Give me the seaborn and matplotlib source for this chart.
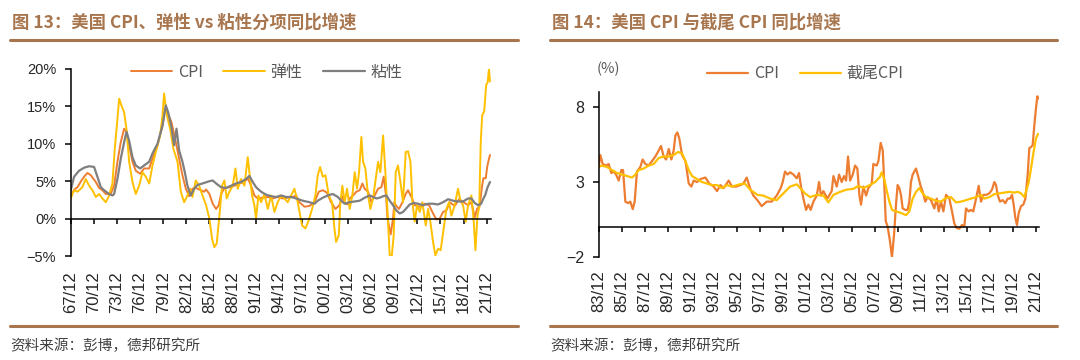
import matplotlib
matplotlib.use("Agg")
import matplotlib.pyplot as plt
import seaborn as sns
from matplotlib.lines import Line2D

# ---------------- DATA ----------------

# 图13: US CPI, flexible (弹性) and sticky (粘性) CPI, YoY %, decimal years
cpi_yr = [1967.92, 1968.4, 1968.79, 1969.25, 1969.65, 1970.08, 1970.52, 1971.17, 1971.6, 1972.03,
          1972.47, 1973.11, 1973.55, 1973.98, 1974.41, 1974.85, 1975.19, 1975.5, 1975.93, 1976.36,
          1976.93, 1977.44, 1978.1, 1978.53, 1979.18, 1979.83, 1980.17, 1980.47, 1980.99, 1981.56,
          1981.99, 1982.42, 1982.86, 1983.29, 1983.72, 1984.15, 1984.8, 1985.24, 1985.49, 1985.92,
          1986.35, 1986.79, 1987.13, 1987.44, 1987.87, 1988.52, 1989.17, 1989.82, 1990.47, 1990.9,
          1991.33, 1991.76, 1992.2, 1992.85, 1993.5, 1994.15, 1994.79, 1995.44, 1996.09, 1996.74,
          1997.18, 1997.61, 1998.26, 1998.91, 1999.56, 2000.12, 2000.64, 2001.16, 2001.72, 2002.28,
          2002.8, 2003.15, 2003.5, 2003.9, 2004.14, 2004.57, 2005.0, 2005.44, 2005.78, 2006.08,
          2006.52, 2006.95, 2007.38, 2007.82, 2008.25, 2008.55, 2008.85, 2009.05, 2009.46, 2009.76,
          2009.95, 2010.11, 2010.54, 2010.98, 2011.41, 2011.71, 2012.15, 2012.58, 2013.23, 2013.88,
          2014.44, 2014.96, 2015.39, 2015.82, 2016.26, 2016.69, 2017.12, 2017.77, 2018.33, 2018.94,
          2019.5, 2019.94, 2020.37, 2020.67, 2021.02, 2021.3, 2021.5, 2021.8, 2022.0, 2022.2, 2022.35]
cpi_val = [3.1, 3.9, 4.2, 5.0, 5.6, 6.1, 5.8, 4.9, 4.1, 3.8,
           3.3, 3.3, 4.4, 7.6, 10.2, 12.0, 11.6, 9.8, 7.6, 6.4,
           6.0, 6.7, 6.7, 8.0, 9.8, 12.4, 14.7, 14.2, 12.9, 10.2,
           8.0, 5.8, 4.0, 3.0, 4.0, 4.1, 3.8, 3.6, 3.9, 3.3,
           2.0, 1.3, 1.8, 3.3, 4.1, 4.2, 4.4, 4.7, 4.9, 5.4,
           4.4, 3.1, 2.7, 2.8, 2.9, 2.7, 2.9, 2.7, 2.8, 2.9,
           3.1, 2.2, 1.6, 1.7, 2.2, 3.6, 3.8, 3.5, 2.2, 1.3,
           1.8, 3.0, 2.1, 1.9, 2.7, 3.1, 3.6, 3.8, 4.7, 4.0,
           3.6, 2.2, 3.1, 4.0, 4.2, 5.6, 3.1, 0.0, -2.1, 0.0,
           2.2, 1.8, 1.3, 2.2, 3.3, 3.8, 2.9, 1.8, 1.6, 2.0,
           1.8, 0.7, -0.1, 0.0, 0.9, 1.1, 2.2, 1.7, 2.6, 2.2,
           1.8, 2.2, 0.2, 1.3, 1.7, 4.2, 5.4, 5.4, 7.0, 7.9, 8.5]

flex_yr = [1967.92, 1968.35, 1968.79, 1969.43, 1969.87, 1970.3, 1970.73, 1971.17, 1971.6, 1972.03,
           1972.47, 1972.9, 1973.33, 1973.63, 1973.98, 1974.2, 1974.5, 1974.85, 1975.15, 1975.5,
           1975.93, 1976.36, 1976.8, 1977.23, 1977.66, 1978.1, 1978.53, 1978.96, 1979.52, 1979.83,
           1980.04, 1980.39, 1980.82, 1981.25, 1981.78, 1982.21, 1982.64, 1983.07, 1983.42, 1983.72,
           1984.15, 1984.59, 1985.02, 1985.49, 1985.92, 1986.27, 1986.57, 1986.87, 1987.22, 1987.56,
           1987.87, 1988.17, 1988.52, 1988.95, 1989.3, 1989.6, 1990.03, 1990.47, 1990.68, 1990.9,
           1991.11, 1991.46, 1991.76, 1991.98, 1992.28, 1992.63, 1993.06, 1993.5, 1993.93, 1994.36,
           1994.79, 1995.23, 1995.66, 1996.09, 1996.53, 1996.96, 1997.39, 1997.95, 1998.39, 1998.82,
           1999.25, 1999.68, 1999.99, 2000.29, 2000.64, 2000.99, 2001.42, 2001.85, 2002.15, 2002.37,
           2002.72, 2002.9, 2003.18, 2003.49, 2003.79, 2004.14, 2004.48, 2004.79, 2005.09, 2005.35,
           2005.65, 2005.87, 2006.17, 2006.52, 2006.82, 2007.17, 2007.51, 2007.82, 2008.12, 2008.47,
           2008.77, 2009.03, 2009.33, 2009.59, 2009.85, 2010.11, 2010.41, 2010.72, 2011.06, 2011.41,
           2011.71, 2012.02, 2012.28, 2012.58, 2012.88, 2013.23, 2013.57, 2014.01, 2014.31, 2014.61,
           2014.96, 2015.26, 2015.61, 2015.95, 2016.34, 2016.69, 2017.04, 2017.34, 2017.77, 2018.2,
           2018.51, 2018.85, 2019.2, 2019.5, 2019.94, 2020.24, 2020.46, 2020.72, 2020.95, 2021.15,
           2021.34, 2021.6, 2021.85, 2022.05, 2022.22, 2022.35]
flex_val = [2.7, 3.8, 3.6, 4.2, 5.3, 4.4, 3.8, 2.9, 3.3, 2.7,
            2.2, 3.1, 4.7, 9.3, 13.3, 16.0, 15.1, 14.2, 12.0, 7.6,
            4.9, 3.3, 4.4, 6.2, 5.6, 4.7, 7.1, 8.9, 11.1, 13.8,
            16.7, 13.8, 12.0, 9.3, 7.6, 3.6, 2.2, 3.1, 4.0, 2.9,
            5.1, 4.4, 3.1, 1.8, 0.0, -2.7, -3.8, -3.3, 0.4, 4.4,
            5.1, 2.7, 3.6, 4.4, 6.7, 4.0, 5.3, 4.4, 6.2, 8.2,
            6.2, 3.1, 1.8, 0.0, 3.1, 2.2, 3.3, 1.3, 3.1, 0.9,
            2.2, 3.1, 2.7, 2.2, 3.1, 4.0, 2.2, -0.9, -1.3, -0.2,
            1.3, 3.1, 5.8, 6.9, 5.6, 5.8, 3.1, 2.2, -1.3, -3.1,
            -2.2, 1.8, 4.4, 2.2, 4.0, 1.3, 3.1, 6.2, 4.0, 6.2,
            10.9, 7.6, 6.7, 3.1, 1.3, 2.7, 5.3, 7.6, 6.2, 11.1,
            6.2, 1.3, -4.9, -5.1, -2.2, 6.2, 7.1, 4.9, 2.2, 8.9,
            9.0, 7.6, 2.2, -0.4, 1.8, 0.9, 2.2, -0.9, 1.3, -0.4,
            -3.1, -4.9, -4.0, -4.2, -1.3, 1.3, 2.2, 0.4, 1.8, 4.0,
            2.4, 1.8, -0.4, 1.8, 3.1, -0.4, -4.2, 0.4, 1.5, 10.2,
            13.8, 14.3, 17.8, 18.2, 20.0, 18.3]

sticky_yr = [1967.92, 1968.35, 1969.0, 1969.65, 1970.3, 1970.95, 1971.38, 1971.82, 1972.25, 1972.9,
             1973.33, 1973.55, 1973.98, 1974.41, 1974.85, 1975.15, 1975.5, 1975.93, 1976.36, 1976.93,
             1977.44, 1978.1, 1978.53, 1979.18, 1979.83, 1980.26, 1980.56, 1980.99, 1981.34, 1981.65,
             1981.99, 1982.42, 1982.73, 1983.07, 1983.5, 1983.94, 1984.37, 1985.02, 1985.92, 1986.35,
             1986.79, 1987.44, 1988.08, 1988.73, 1989.38, 1990.03, 1990.68, 1991.11, 1991.55, 1991.98,
             1992.63, 1993.28, 1993.93, 1994.58, 1995.23, 1995.88, 1996.53, 1997.18, 1998.04, 1998.91,
             1999.56, 1999.99, 2000.64, 2001.29, 2001.94, 2002.59, 2003.24, 2003.49, 2004.14, 2004.79,
             2005.44, 2006.08, 2006.73, 2007.17, 2007.6, 2008.03, 2008.47, 2008.9, 2009.33, 2009.76,
             2010.2, 2010.63, 2011.06, 2011.5, 2011.93, 2012.45, 2013.01, 2013.66, 2014.31, 2014.96,
             2015.61, 2016.26, 2016.91, 2017.56, 2018.2, 2018.85, 2019.5, 2019.94, 2020.37, 2020.8,
             2021.2, 2021.5, 2021.75, 2022.0, 2022.35]
sticky_val = [3.8, 5.6, 6.4, 6.8, 7.0, 6.9, 5.6, 4.2, 3.8, 3.3,
              3.1, 3.3, 5.3, 8.0, 10.2, 11.6, 10.4, 8.2, 7.1, 6.7,
              7.1, 7.6, 8.7, 10.0, 12.4, 15.1, 14.2, 12.2, 9.8, 12.0,
              9.1, 7.6, 6.2, 4.4, 3.1, 4.0, 4.5, 4.7, 5.0, 5.1,
              4.7, 4.2, 4.1, 4.4, 4.7, 4.9, 5.3, 5.7, 4.9, 4.2,
              3.6, 3.2, 3.0, 2.9, 3.1, 2.9, 2.9, 2.7, 2.4, 2.2,
              2.0, 2.4, 2.8, 3.1, 3.3, 2.9, 2.2, 2.0, 2.2, 2.3,
              2.4, 2.8, 3.1, 2.9, 2.7, 2.8, 3.0, 3.1, 2.4, 1.8,
              1.1, 0.7, 0.9, 1.4, 1.9, 2.1, 2.0, 1.8, 2.0, 2.0,
              1.9, 2.2, 2.6, 2.4, 2.3, 2.3, 2.7, 2.7, 2.1, 1.8,
              2.0, 2.7, 3.2, 4.1, 4.9]

left_xlabels = ['67/12', '70/12', '73/12', '76/12', '79/12', '82/12', '85/12', '88/12', '91/12', '94/12',
                '97/12', '00/12', '03/12', '06/12', '09/12', '12/12', '15/12', '18/12', '21/12']
left_yticks = [-5, 0, 5, 10, 15, 20]
left_ylabels = ['\u22125%', '0%', '5%', '10%', '15%', '20%']

# 图14: US CPI vs trimmed-mean CPI, YoY %
cpi2_yr = [1983.92, 1984.06, 1984.27, 1984.56, 1984.79, 1985.02, 1985.22, 1985.43, 1985.66, 1985.89,
           1986.04, 1986.15, 1986.24, 1986.47, 1986.67, 1986.88, 1987.05, 1987.25, 1987.54, 1987.74,
           1987.98, 1988.27, 1988.56, 1988.85, 1989.14, 1989.34, 1989.57, 1989.78, 1990.01, 1990.24,
           1990.44, 1990.59, 1990.76, 1990.93, 1991.17, 1991.46, 1991.6, 1991.75, 1991.98, 1992.18,
           1992.47, 1992.76, 1993.2, 1993.54, 1993.92, 1994.21, 1994.5, 1994.79, 1995.22, 1995.51,
           1995.86, 1996.24, 1996.5, 1996.79, 1997.08, 1997.37, 1997.72, 1998.09, 1998.53, 1998.96,
           1999.4, 1999.75, 1999.92, 2000.12, 2000.33, 2000.56, 2000.85, 2001.14, 2001.34, 2001.51,
           2001.72, 2001.95, 2002.15, 2002.35, 2002.59, 2002.88, 2003.08, 2003.25, 2003.46, 2003.8,
           2004.18, 2004.33, 2004.62, 2004.82, 2005.05, 2005.25, 2005.43, 2005.6, 2005.78, 2006.01,
           2006.21, 2006.41, 2006.59, 2006.73, 2006.93, 2007.17, 2007.37, 2007.66, 2007.8, 2008.09,
           2008.24, 2008.44, 2008.62, 2008.73, 2008.88, 2009.04, 2009.25, 2009.42, 2009.6, 2009.77,
           2009.91, 2010.06, 2010.2, 2010.35, 2010.58, 2010.78, 2010.93, 2011.07, 2011.22, 2011.51,
           2011.71, 2011.89, 2012.09, 2012.32, 2012.52, 2012.81, 2013.1, 2013.31, 2013.48, 2013.68,
           2013.89, 2014.12, 2014.41, 2014.64, 2014.84, 2015.04, 2015.28, 2015.51, 2015.71, 2015.86,
           2016.09, 2016.29, 2016.49, 2016.73, 2016.96, 2017.16, 2017.36, 2017.6, 2017.89, 2018.12,
           2018.32, 2018.47, 2018.61, 2018.81, 2019.04, 2019.28, 2019.48, 2019.68, 2019.86, 2020.0,
           2020.15, 2020.29, 2020.44, 2020.64, 2020.84, 2021.02, 2021.22, 2021.36, 2021.54, 2021.65,
           2021.8, 2021.94, 2022.06, 2022.12]
cpi2_val = [4.0, 4.8, 4.2, 4.1, 4.2, 3.6, 3.7, 3.5, 3.1, 3.8,
            3.8, 2.6, 1.7, 1.6, 1.7, 1.2, 1.7, 3.7, 4.0, 4.5,
            4.2, 4.1, 4.4, 4.7, 5.1, 5.4, 4.7, 4.5, 5.2, 4.5,
            5.1, 6.1, 6.3, 5.9, 4.8, 4.4, 3.7, 2.9, 2.7, 3.1,
            3.0, 3.2, 3.3, 2.9, 2.7, 2.4, 2.8, 2.6, 3.1, 2.7,
            2.7, 2.8, 2.9, 3.3, 2.6, 2.1, 1.8, 1.4, 1.7, 1.7,
            2.1, 2.6, 3.0, 3.7, 3.5, 3.65, 3.5, 3.25, 3.6, 2.7,
            1.9, 1.15, 1.5, 1.15, 1.7, 2.1, 3.0, 2.1, 2.4, 1.9,
            2.4, 3.4, 2.7, 3.5, 3.0, 3.4, 3.1, 4.7, 3.1, 3.5,
            4.1, 3.9, 2.1, 1.5, 2.7, 2.1, 2.6, 2.9, 4.2, 4.1,
            4.4, 5.6, 5.1, 3.25, 0.4, 0.05, -0.95, -2.0, -0.5, 1.5,
            2.8, 2.6, 2.15, 1.25, 1.15, 1.15, 1.7, 3.0, 3.5, 3.9,
            3.35, 2.8, 2.35, 1.7, 2.0, 1.8, 1.25, 1.9, 1.05, 1.7,
            1.05, 2.15, 1.9, 1.05, 0.25, -0.05, -0.1, 0.15, 0.05, 1.25,
            1.05, 1.15, 1.05, 1.9, 2.75, 1.7, 2.15, 2.15, 2.25, 2.5,
            3.0, 2.8, 2.15, 1.7, 1.8, 1.6, 1.9, 1.9, 2.15, 1.5,
            0.6, 0.15, 0.95, 1.4, 1.5, 1.9, 3.5, 5.25, 5.35, 5.45,
            6.8, 7.9, 8.7, 8.55]

trim_yr = [1983.92, 1984.21, 1984.64, 1985.08, 1985.51, 1985.95, 1986.38, 1986.82, 1987.11, 1987.4,
           1987.83, 1988.27, 1988.7, 1989.14, 1989.57, 1990.01, 1990.44, 1990.82, 1991.17, 1991.46,
           1991.75, 1992.04, 1992.47, 1992.91, 1993.34, 1993.78, 1994.21, 1994.64, 1995.08, 1995.51,
           1995.95, 1996.21, 1996.64, 1997.08, 1997.72, 1998.24, 1998.82, 1999.4, 1999.98, 2000.56,
           2001.14, 2001.43, 2001.86, 2002.3, 2002.88, 2003.46, 2003.89, 2004.33, 2004.91, 2005.49,
           2006.06, 2006.5, 2006.93, 2007.37, 2007.95, 2008.38, 2008.53, 2008.73, 2009.02, 2009.19,
           2009.43, 2009.77, 2010.2, 2010.64, 2010.93, 2011.22, 2011.51, 2011.8, 2012.09, 2012.38,
           2012.81, 2013.25, 2013.68, 2014.12, 2014.55, 2014.99, 2015.42, 2015.86, 2016.29, 2016.73,
           2017.16, 2017.45, 2017.89, 2018.32, 2018.76, 2019.19, 2019.62, 2020.06, 2020.35, 2020.64,
           2020.93, 2021.07, 2021.31, 2021.51, 2021.71, 2021.94, 2022.12]
trim_val = [4.0, 4.1, 4.0, 3.8, 3.6, 3.5, 3.4, 3.3, 3.5, 3.8,
            3.9, 4.1, 4.2, 4.6, 4.7, 4.7, 4.8, 5.0, 4.9, 4.4,
            3.8, 3.4, 3.2, 3.0, 2.9, 2.8, 2.8, 2.6, 2.8, 2.7,
            2.8, 2.85, 2.9, 2.5, 2.15, 2.1, 1.9, 1.8, 2.25, 2.7,
            2.85, 2.6, 2.25, 2.0, 2.15, 2.1, 1.65, 2.15, 2.35, 2.5,
            2.55, 2.75, 2.6, 2.75, 3.0, 3.35, 3.65, 3.25, 2.25, 1.7,
            1.15, 1.05, 0.95, 0.8, 1.05, 1.9, 2.35, 2.6, 2.25, 2.0,
            1.9, 1.75, 1.7, 1.95, 2.0, 1.65, 1.7, 1.8, 1.9, 2.0,
            2.15, 1.9, 2.0, 2.2, 2.25, 2.3, 2.35, 2.3, 2.35, 2.25,
            2.0, 2.35, 3.0, 3.9, 4.9, 5.9, 6.2]

right_xlabels = ['83/12', '85/12', '87/12', '89/12', '91/12', '93/12', '95/12', '97/12', '99/12', '01/12',
                 '03/12', '05/12', '07/12', '09/12', '11/12', '13/12', '15/12', '17/12', '19/12', '21/12']
right_yticks = [-2, 3, 8]
right_ylabels = ['\u22122', '3', '8']

# ---------------- STYLE ----------------

sns.set_style("ticks")
plt.rcParams['font.family'] = ['Noto Sans CJK SC', 'DejaVu Sans']
plt.rcParams['axes.unicode_minus'] = True

C_CPI = '#ED7D31'
C_FLEX = '#FFC000'
C_STICKY = '#7F7F7F'
BROWN = '#A8764E'
NUM_FONT = 'Liberation Sans'


def label_years(labels):
    out = []
    for s in labels:
        yy = int(s[:2])
        out.append((1900 + yy if yy >= 50 else 2000 + yy) + 11 / 12)
    return out


def style_axis(ax, xlabels, yticks, ylabels, ysize, pad_x):
    ax.spines['top'].set_visible(False)
    ax.spines['right'].set_visible(False)
    for side in ('left', 'bottom'):
        ax.spines[side].set_linewidth(1.1)
        ax.spines[side].set_color('black')
    ax.spines['bottom'].set_position(('data', 0))
    pos = label_years(xlabels)
    ax.set_xticks(pos)
    ax.tick_params(axis='x', direction='out', length=3.6, width=1.1, color='black', labelbottom=False)
    ax.set_yticks(yticks, labels=ylabels, fontsize=ysize, fontfamily=NUM_FONT)
    ax.tick_params(axis='y', direction='out', length=4.5, width=1.1, color='black', pad=6)
    ax.set_xlabel('')
    ax.set_ylabel('')
    sec = ax.secondary_xaxis('bottom')
    sec.set_xticks(pos, labels=xlabels, rotation=90, fontsize=12, fontfamily=NUM_FONT)
    sec.tick_params(length=0, pad=pad_x)
    sec.spines['bottom'].set_visible(False)


fig = plt.figure(figsize=(10.8, 3.6), dpi=100)

# ---------------- LEFT: 图13 ----------------

ax1 = fig.add_axes([0.0655, 0.2883, 0.3889, 0.5208])
sns.lineplot(x=cpi_yr, y=cpi_val, ax=ax1, color=C_CPI, lw=1.4, label='CPI', estimator=None)
sns.lineplot(x=flex_yr, y=flex_val, ax=ax1, color=C_FLEX, lw=1.4, label='弹性', estimator=None)
sns.lineplot(x=sticky_yr, y=sticky_val, ax=ax1, color=C_STICKY, lw=1.6, label='粘性', estimator=None)
ax1.set_xlim(1967.92, 2022.45)
ax1.set_ylim(-5, 20)
style_axis(ax1, left_xlabels, left_yticks, left_ylabels, 10.5, 10.5)
ax1.legend(loc='center', bbox_to_anchor=(0.466, 0.982), ncol=3, frameon=False,
           handlelength=2.6, columnspacing=1.3, handletextpad=0.35,
           prop={'size': 11.5}, labelcolor='#595959')

# ---------------- RIGHT: 图14 ----------------

ax2 = fig.add_axes([0.5543, 0.2853, 0.4077, 0.4597])
sns.lineplot(x=cpi2_yr, y=cpi2_val, ax=ax2, color=C_CPI, lw=1.6, label='CPI', estimator=None)
sns.lineplot(x=trim_yr, y=trim_val, ax=ax2, color=C_FLEX, lw=1.6, label='截尾CPI', estimator=None)
ax2.set_xlim(1983.92, 2022.2)
ax2.set_ylim(-2, 9)
style_axis(ax2, right_xlabels, right_yticks, right_ylabels, 11.5, 9.5)
ax2.legend(loc='center', bbox_to_anchor=(0.469, 1.11), ncol=2, frameon=False,
           handlelength=2.6, columnspacing=1.3, handletextpad=0.35,
           prop={'size': 11.5}, labelcolor='#595959')
fig.text(0.5528, 0.808, '(%)', fontsize=10.5, color='#595959', va='center', ha='left')

# ---------------- TITLES, RULES, SOURCE ----------------

fig.text(0.011, 0.938, '图 13：美国 CPI、弹性 vs 粘性分项同比增速', fontsize=12.5,
         fontweight='bold', color=BROWN, va='center', ha='left')
fig.text(0.511, 0.938, '图 14：美国 CPI 与截尾 CPI 同比增速', fontsize=12.5,
         fontweight='bold', color=BROWN, va='center', ha='left')

for x0, x1 in [(9.6, 517.6), (549.6, 1056.5)]:
    for ypx in (39.6, 326.4):
        fig.add_artist(Line2D([x0 / 1080, x1 / 1080], [1 - ypx / 360] * 2,
                              color=BROWN, lw=2.2, transform=fig.transFigure))

fig.text(0.0095, 0.0406, '资料来源：彭博，德邦研究所', fontsize=10.5, color='#404040', va='center', ha='left')
fig.text(0.5095, 0.0406, '资料来源：彭博，德邦研究所', fontsize=10.5, color='#404040', va='center', ha='left')

fig.savefig('out.png', dpi=100)
